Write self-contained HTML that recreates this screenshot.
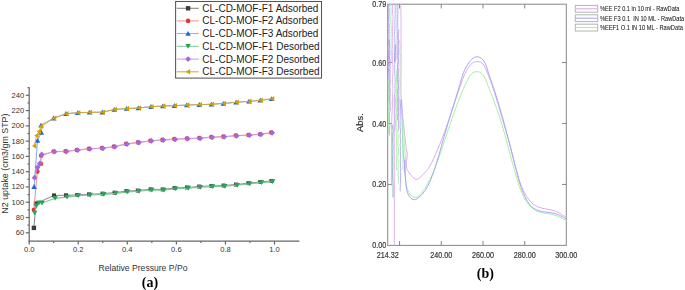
<!DOCTYPE html>
<html><head><meta charset="utf-8"><style>
html,body{margin:0;padding:0;background:#fff;}
body{width:685px;height:290px;overflow:hidden;position:relative;}
svg{display:block;position:absolute;left:0;top:0;}
#r{will-change:transform;}
</style></head><body>
<svg width="685" height="290" viewBox="0 0 685 290">
<g stroke="#666" stroke-width="1.2" fill="none">
<line x1="29.2" y1="87.2" x2="29.2" y2="241.7"/>
<line x1="28.7" y1="241.2" x2="299.4" y2="241.2"/>
<line x1="25.8" y1="232.8" x2="29.2" y2="232.8"/>
<line x1="25.8" y1="217.52" x2="29.2" y2="217.52"/>
<line x1="25.8" y1="202.25" x2="29.2" y2="202.25"/>
<line x1="25.8" y1="186.97" x2="29.2" y2="186.97"/>
<line x1="25.8" y1="171.69" x2="29.2" y2="171.69"/>
<line x1="25.8" y1="156.41" x2="29.2" y2="156.41"/>
<line x1="25.8" y1="141.13" x2="29.2" y2="141.13"/>
<line x1="25.8" y1="125.86" x2="29.2" y2="125.86"/>
<line x1="25.8" y1="110.58" x2="29.2" y2="110.58"/>
<line x1="25.8" y1="95.3" x2="29.2" y2="95.3"/>
<line x1="27.5" y1="225.16" x2="29.2" y2="225.16"/>
<line x1="27.5" y1="209.88" x2="29.2" y2="209.88"/>
<line x1="27.5" y1="194.61" x2="29.2" y2="194.61"/>
<line x1="27.5" y1="179.33" x2="29.2" y2="179.33"/>
<line x1="27.5" y1="164.05" x2="29.2" y2="164.05"/>
<line x1="27.5" y1="148.77" x2="29.2" y2="148.77"/>
<line x1="27.5" y1="133.5" x2="29.2" y2="133.5"/>
<line x1="27.5" y1="118.22" x2="29.2" y2="118.22"/>
<line x1="27.5" y1="102.94" x2="29.2" y2="102.94"/>
<line x1="27.5" y1="87.66" x2="29.2" y2="87.66"/>
<line x1="29.2" y1="241.2" x2="29.2" y2="244.6"/>
<line x1="78.26" y1="241.2" x2="78.26" y2="244.6"/>
<line x1="127.32" y1="241.2" x2="127.32" y2="244.6"/>
<line x1="176.38" y1="241.2" x2="176.38" y2="244.6"/>
<line x1="225.44" y1="241.2" x2="225.44" y2="244.6"/>
<line x1="274.5" y1="241.2" x2="274.5" y2="244.6"/>
<line x1="53.73" y1="241.2" x2="53.73" y2="243"/>
<line x1="102.79" y1="241.2" x2="102.79" y2="243"/>
<line x1="151.85" y1="241.2" x2="151.85" y2="243"/>
<line x1="200.91" y1="241.2" x2="200.91" y2="243"/>
<line x1="249.97" y1="241.2" x2="249.97" y2="243"/>
</g>
<g font-family="&quot;Liberation Sans&quot;, sans-serif" font-size="7.6" fill="#333" text-anchor="end">
<text x="24.2" y="235.3">60</text>
<text x="24.2" y="220.02">80</text>
<text x="24.2" y="204.75">100</text>
<text x="24.2" y="189.47">120</text>
<text x="24.2" y="174.19">140</text>
<text x="24.2" y="158.91">160</text>
<text x="24.2" y="143.63">180</text>
<text x="24.2" y="128.36">200</text>
<text x="24.2" y="113.08">220</text>
<text x="24.2" y="97.8">240</text>
</g>
<g font-family="&quot;Liberation Sans&quot;, sans-serif" font-size="7.6" fill="#333" text-anchor="middle">
<text x="29.2" y="251.9">0.0</text>
<text x="78.26" y="251.9">0.2</text>
<text x="127.32" y="251.9">0.4</text>
<text x="176.38" y="251.9">0.6</text>
<text x="225.44" y="251.9">0.8</text>
<text x="274.5" y="251.9">1.0</text>
</g>
<text transform="translate(8.4 163.6) rotate(-90)" font-family="&quot;Liberation Sans&quot;, sans-serif" font-size="8.9" fill="#333" text-anchor="middle">N2 uptake (cm3/gm STP)</text>
<text x="143" y="270.8" font-family="&quot;Liberation Sans&quot;, sans-serif" font-size="8.6" fill="#333" text-anchor="middle">Relative Pressure P/Po</text>
<polyline points="33.9,227.9 36,203.6 54,195.4 66,195.3 77.2,194.95 89,194.35 102.6,193.65 114.6,192.65 126.4,191.15 137.8,190.55 150.6,189.35 162.7,189.45 174.5,188.05 187.1,187.45 199.2,186.55 211.4,185.95 223.6,185.55 236,184.55 248.4,183.15 260.3,181.95 271.5,180.95" fill="none" stroke="#7a7a7a" stroke-width="0.9"/>
<g><rect x="31.7" y="225.7" width="4.4" height="4.4" fill="#3d3d3d"/><rect x="33.8" y="201.4" width="4.4" height="4.4" fill="#3d3d3d"/><rect x="52" y="193.4" width="4" height="4" fill="#3d3d3d"/><rect x="64" y="193.3" width="4" height="4" fill="#3d3d3d"/><rect x="75.2" y="192.95" width="4" height="4" fill="#3d3d3d"/><rect x="87" y="192.35" width="4" height="4" fill="#3d3d3d"/><rect x="100.6" y="191.65" width="4" height="4" fill="#3d3d3d"/><rect x="112.6" y="190.65" width="4" height="4" fill="#3d3d3d"/><rect x="124.4" y="189.15" width="4" height="4" fill="#3d3d3d"/><rect x="135.8" y="188.55" width="4" height="4" fill="#3d3d3d"/><rect x="148.6" y="187.35" width="4" height="4" fill="#3d3d3d"/><rect x="160.7" y="187.45" width="4" height="4" fill="#3d3d3d"/><rect x="172.5" y="186.05" width="4" height="4" fill="#3d3d3d"/><rect x="185.1" y="185.45" width="4" height="4" fill="#3d3d3d"/><rect x="197.2" y="184.55" width="4" height="4" fill="#3d3d3d"/><rect x="209.4" y="183.95" width="4" height="4" fill="#3d3d3d"/><rect x="221.6" y="183.55" width="4" height="4" fill="#3d3d3d"/><rect x="234" y="182.55" width="4" height="4" fill="#3d3d3d"/><rect x="246.4" y="181.15" width="4" height="4" fill="#3d3d3d"/><rect x="258.3" y="179.95" width="4" height="4" fill="#3d3d3d"/><rect x="269.5" y="178.95" width="4" height="4" fill="#3d3d3d"/></g>
<polyline points="33.9,209.7 37.3,171.6 40.9,163.8 41.2,155.8 53.6,151.5 65.5,151.3 76.7,150 88.9,148.7 102,148.1 113.9,146.6 126.1,143.9 138,142.4 150.4,140.7 162.4,139.9 174.2,139.1 186.8,138.5 199.3,138.1 211.3,137.1 223.3,136.6 235.7,135.6 248.5,135 260,134.2 271.2,132.6" fill="none" stroke="#f07f7f" stroke-width="0.9"/>
<g><circle cx="33.9" cy="209.7" r="2.3" fill="#ea3535"/><circle cx="37.3" cy="171.6" r="2.3" fill="#ea3535"/><circle cx="40.9" cy="163.8" r="2.3" fill="#ea3535"/><circle cx="41.2" cy="155.8" r="2.3" fill="#ea3535"/><circle cx="53.6" cy="151.5" r="2.3" fill="#ea3535"/><circle cx="65.5" cy="151.3" r="2.3" fill="#ea3535"/><circle cx="76.7" cy="150" r="2.3" fill="#ea3535"/><circle cx="88.9" cy="148.7" r="2.3" fill="#ea3535"/><circle cx="102" cy="148.1" r="2.3" fill="#ea3535"/><circle cx="113.9" cy="146.6" r="2.3" fill="#ea3535"/><circle cx="126.1" cy="143.9" r="2.3" fill="#ea3535"/><circle cx="138" cy="142.4" r="2.3" fill="#ea3535"/><circle cx="150.4" cy="140.7" r="2.3" fill="#ea3535"/><circle cx="162.4" cy="139.9" r="2.3" fill="#ea3535"/><circle cx="174.2" cy="139.1" r="2.3" fill="#ea3535"/><circle cx="186.8" cy="138.5" r="2.3" fill="#ea3535"/><circle cx="199.3" cy="138.1" r="2.3" fill="#ea3535"/><circle cx="211.3" cy="137.1" r="2.3" fill="#ea3535"/><circle cx="223.3" cy="136.6" r="2.3" fill="#ea3535"/><circle cx="235.7" cy="135.6" r="2.3" fill="#ea3535"/><circle cx="248.5" cy="135" r="2.3" fill="#ea3535"/><circle cx="260" cy="134.2" r="2.3" fill="#ea3535"/><circle cx="271.2" cy="132.6" r="2.3" fill="#ea3535"/></g>
<polyline points="34.1,186.6 37.5,140.5 41.4,132.5 41,125.3 53.6,118.1 65.9,113.6 77.7,112.7 89.5,112.3 102.4,112.1 114.3,109.4 126.5,108.5 138.4,107.9 151,106.6 162.8,106 174.4,105.6 186.8,105 199.3,104.6 211.5,104.2 223.3,103.4 236.1,102.2 248.9,101.3 260.2,100.3 271.6,98.7" fill="none" stroke="#6f9fe8" stroke-width="0.9"/>
<g><polygon points="34.1,184.08 36.86,188.88 31.34,188.88" fill="#1f66da"/><polygon points="37.5,137.98 40.26,142.78 34.74,142.78" fill="#1f66da"/><polygon points="41.4,129.98 44.16,134.78 38.64,134.78" fill="#1f66da"/><polygon points="41,122.78 43.76,127.58 38.24,127.58" fill="#1f66da"/><polygon points="53.6,115.58 56.36,120.38 50.84,120.38" fill="#1f66da"/><polygon points="65.9,111.08 68.66,115.88 63.14,115.88" fill="#1f66da"/><polygon points="77.7,110.18 80.46,114.98 74.94,114.98" fill="#1f66da"/><polygon points="89.5,109.78 92.26,114.58 86.74,114.58" fill="#1f66da"/><polygon points="102.4,109.58 105.16,114.38 99.64,114.38" fill="#1f66da"/><polygon points="114.3,106.88 117.06,111.68 111.54,111.68" fill="#1f66da"/><polygon points="126.5,105.98 129.26,110.78 123.74,110.78" fill="#1f66da"/><polygon points="138.4,105.38 141.16,110.18 135.64,110.18" fill="#1f66da"/><polygon points="151,104.08 153.76,108.88 148.24,108.88" fill="#1f66da"/><polygon points="162.8,103.48 165.56,108.28 160.04,108.28" fill="#1f66da"/><polygon points="174.4,103.08 177.16,107.88 171.64,107.88" fill="#1f66da"/><polygon points="186.8,102.48 189.56,107.28 184.04,107.28" fill="#1f66da"/><polygon points="199.3,102.08 202.06,106.88 196.54,106.88" fill="#1f66da"/><polygon points="211.5,101.68 214.26,106.48 208.74,106.48" fill="#1f66da"/><polygon points="223.3,100.88 226.06,105.68 220.54,105.68" fill="#1f66da"/><polygon points="236.1,99.68 238.86,104.48 233.34,104.48" fill="#1f66da"/><polygon points="248.9,98.78 251.66,103.58 246.14,103.58" fill="#1f66da"/><polygon points="260.2,97.78 262.96,102.58 257.44,102.58" fill="#1f66da"/><polygon points="271.6,96.18 274.36,100.98 268.84,100.98" fill="#1f66da"/></g>
<polyline points="272.7,181.6 261.5,182.6 249.6,183.8 237.2,185.2 224.8,186.2 212.6,186.6 200.4,187.2 188.3,188.1 175.7,188.7 163.9,190.1 151.8,190 139,191.2 127.6,191.8 115.8,193.3 103.8,194.3 90.2,195 78.4,195.6 67,197.1 55.1,198.3 42,203 39,202.8 36.5,205.8 34.7,213.1" fill="none" stroke="#7cc996" stroke-width="1.2"/>
<g><polygon points="272.7,184.12 275.46,179.32 269.94,179.32" fill="#2aa35c"/><polygon points="261.5,185.12 264.26,180.32 258.74,180.32" fill="#2aa35c"/><polygon points="249.6,186.32 252.36,181.52 246.84,181.52" fill="#2aa35c"/><polygon points="237.2,187.72 239.96,182.92 234.44,182.92" fill="#2aa35c"/><polygon points="224.8,188.72 227.56,183.92 222.04,183.92" fill="#2aa35c"/><polygon points="212.6,189.12 215.36,184.32 209.84,184.32" fill="#2aa35c"/><polygon points="200.4,189.72 203.16,184.92 197.64,184.92" fill="#2aa35c"/><polygon points="188.3,190.62 191.06,185.82 185.54,185.82" fill="#2aa35c"/><polygon points="175.7,191.22 178.46,186.42 172.94,186.42" fill="#2aa35c"/><polygon points="163.9,192.62 166.66,187.82 161.14,187.82" fill="#2aa35c"/><polygon points="151.8,192.52 154.56,187.72 149.04,187.72" fill="#2aa35c"/><polygon points="139,193.72 141.76,188.92 136.24,188.92" fill="#2aa35c"/><polygon points="127.6,194.32 130.36,189.52 124.84,189.52" fill="#2aa35c"/><polygon points="115.8,195.82 118.56,191.02 113.04,191.02" fill="#2aa35c"/><polygon points="103.8,196.82 106.56,192.02 101.04,192.02" fill="#2aa35c"/><polygon points="90.2,197.52 92.96,192.72 87.44,192.72" fill="#2aa35c"/><polygon points="78.4,198.12 81.16,193.32 75.64,193.32" fill="#2aa35c"/><polygon points="67,199.62 69.76,194.82 64.24,194.82" fill="#2aa35c"/><polygon points="55.1,200.82 57.86,196.02 52.34,196.02" fill="#2aa35c"/><polygon points="42,205.52 44.76,200.72 39.24,200.72" fill="#2aa35c"/><polygon points="39,205.32 41.76,200.52 36.24,200.52" fill="#2aa35c"/><polygon points="36.5,208.32 39.26,203.52 33.74,203.52" fill="#2aa35c"/><polygon points="34.7,215.62 37.46,210.82 31.94,210.82" fill="#2aa35c"/></g>
<polyline points="272.2,132.8 261,134.4 249.5,135.2 236.7,135.8 224.3,136.8 212.3,137.3 200.3,138.3 187.8,138.7 175.2,139.3 163.4,140.1 151.4,140.9 139,142.6 127.1,144.1 114.9,146.8 103,148.3 89.9,148.9 77.7,150.2 66.5,151.5 54.6,151.7 41.7,154.5 39.8,163.5 37.5,167.3 34.6,177.7" fill="none" stroke="#c6a0ee" stroke-width="0.9"/>
<g><polygon points="272.2,129.92 275.08,132.8 272.2,135.68 269.32,132.8" fill="#a567de"/><polygon points="261,131.52 263.88,134.4 261,137.28 258.12,134.4" fill="#a567de"/><polygon points="249.5,132.32 252.38,135.2 249.5,138.08 246.62,135.2" fill="#a567de"/><polygon points="236.7,132.92 239.58,135.8 236.7,138.68 233.82,135.8" fill="#a567de"/><polygon points="224.3,133.92 227.18,136.8 224.3,139.68 221.42,136.8" fill="#a567de"/><polygon points="212.3,134.42 215.18,137.3 212.3,140.18 209.42,137.3" fill="#a567de"/><polygon points="200.3,135.42 203.18,138.3 200.3,141.18 197.42,138.3" fill="#a567de"/><polygon points="187.8,135.82 190.68,138.7 187.8,141.58 184.92,138.7" fill="#a567de"/><polygon points="175.2,136.42 178.08,139.3 175.2,142.18 172.32,139.3" fill="#a567de"/><polygon points="163.4,137.22 166.28,140.1 163.4,142.98 160.52,140.1" fill="#a567de"/><polygon points="151.4,138.02 154.28,140.9 151.4,143.78 148.52,140.9" fill="#a567de"/><polygon points="139,139.72 141.88,142.6 139,145.48 136.12,142.6" fill="#a567de"/><polygon points="127.1,141.22 129.98,144.1 127.1,146.98 124.22,144.1" fill="#a567de"/><polygon points="114.9,143.92 117.78,146.8 114.9,149.68 112.02,146.8" fill="#a567de"/><polygon points="103,145.42 105.88,148.3 103,151.18 100.12,148.3" fill="#a567de"/><polygon points="89.9,146.02 92.78,148.9 89.9,151.78 87.02,148.9" fill="#a567de"/><polygon points="77.7,147.32 80.58,150.2 77.7,153.08 74.82,150.2" fill="#a567de"/><polygon points="66.5,148.62 69.38,151.5 66.5,154.38 63.62,151.5" fill="#a567de"/><polygon points="54.6,148.82 57.48,151.7 54.6,154.58 51.72,151.7" fill="#a567de"/><polygon points="41.7,151.62 44.58,154.5 41.7,157.38 38.82,154.5" fill="#a567de"/><polygon points="39.8,160.62 42.68,163.5 39.8,166.38 36.92,163.5" fill="#a567de"/><polygon points="37.5,164.42 40.38,167.3 37.5,170.18 34.62,167.3" fill="#a567de"/><polygon points="34.6,174.82 37.48,177.7 34.6,180.58 31.72,177.7" fill="#a567de"/></g>
<polyline points="272.2,98.8 260.8,100.4 249.5,101.4 236.7,102.3 223.9,103.5 212.1,104.3 199.9,104.7 187.4,105.1 175,105.7 163.4,106.1 151.6,106.7 139,108 127.1,108.6 114.9,109.5 103,112.2 90.1,112.4 78.3,112.8 66.5,113.7 54.2,118.2 41.2,126.2 39,131.5 36.6,135.6 34.2,145.9" fill="none" stroke="#d6a935" stroke-width="0.9"/>
<g><polygon points="269.92,98.8 274.24,95.99 274.24,101.61" fill="#d4a000"/><polygon points="258.52,100.4 262.84,97.59 262.84,103.21" fill="#d4a000"/><polygon points="247.22,101.4 251.54,98.59 251.54,104.21" fill="#d4a000"/><polygon points="234.42,102.3 238.74,99.49 238.74,105.11" fill="#d4a000"/><polygon points="221.62,103.5 225.94,100.69 225.94,106.31" fill="#d4a000"/><polygon points="209.82,104.3 214.14,101.49 214.14,107.11" fill="#d4a000"/><polygon points="197.62,104.7 201.94,101.89 201.94,107.51" fill="#d4a000"/><polygon points="185.12,105.1 189.44,102.29 189.44,107.91" fill="#d4a000"/><polygon points="172.72,105.7 177.04,102.89 177.04,108.51" fill="#d4a000"/><polygon points="161.12,106.1 165.44,103.29 165.44,108.91" fill="#d4a000"/><polygon points="149.32,106.7 153.64,103.89 153.64,109.51" fill="#d4a000"/><polygon points="136.72,108 141.04,105.19 141.04,110.81" fill="#d4a000"/><polygon points="124.82,108.6 129.14,105.79 129.14,111.41" fill="#d4a000"/><polygon points="112.62,109.5 116.94,106.69 116.94,112.31" fill="#d4a000"/><polygon points="100.72,112.2 105.04,109.39 105.04,115.01" fill="#d4a000"/><polygon points="87.82,112.4 92.14,109.59 92.14,115.21" fill="#d4a000"/><polygon points="76.02,112.8 80.34,109.99 80.34,115.61" fill="#d4a000"/><polygon points="64.22,113.7 68.54,110.89 68.54,116.51" fill="#d4a000"/><polygon points="51.92,118.2 56.24,115.39 56.24,121.01" fill="#d4a000"/><polygon points="38.92,126.2 43.24,123.39 43.24,129.01" fill="#d4a000"/><polygon points="36.72,131.5 41.04,128.69 41.04,134.31" fill="#d4a000"/><polygon points="34.32,135.6 38.64,132.79 38.64,138.41" fill="#d4a000"/><polygon points="31.92,145.9 36.24,143.09 36.24,148.71" fill="#d4a000"/></g>
<rect x="175.6" y="1.5" width="145.9" height="76.6" fill="none" stroke="#555" stroke-width="1.05"/>
<line x1="176.7" y1="8.3" x2="198.8" y2="8.3" stroke="#8a8a8a" stroke-width="1.1"/>
<rect x="185.9" y="6.1" width="4.4" height="4.4" fill="#3d3d3d"/>
<text x="202.3" y="11.8" font-family="&quot;Liberation Sans&quot;, sans-serif" font-size="10" fill="#222">CL-CD-MOF-F1 Adsorbed</text>
<line x1="176.7" y1="20.9" x2="198.8" y2="20.9" stroke="#f59a9a" stroke-width="1.1"/>
<circle cx="188.1" cy="20.9" r="2.3" fill="#ea3535"/>
<text x="202.3" y="24.4" font-family="&quot;Liberation Sans&quot;, sans-serif" font-size="10" fill="#222">CL-CD-MOF-F2 Adsorbed</text>
<line x1="176.7" y1="33.5" x2="198.8" y2="33.5" stroke="#8fb4ee" stroke-width="1.1"/>
<polygon points="188.1,30.98 190.86,35.78 185.34,35.78" fill="#1f66da"/>
<text x="202.3" y="37" font-family="&quot;Liberation Sans&quot;, sans-serif" font-size="10" fill="#222">CL-CD-MOF-F3 Adsorbed</text>
<line x1="176.7" y1="46.3" x2="198.8" y2="46.3" stroke="#86cf9f" stroke-width="1.1"/>
<polygon points="188.1,48.82 190.86,44.02 185.34,44.02" fill="#2aa35c"/>
<text x="202.3" y="49.8" font-family="&quot;Liberation Sans&quot;, sans-serif" font-size="10" fill="#222">CL-CD-MOF-F1 Desorbed</text>
<line x1="176.7" y1="59.1" x2="198.8" y2="59.1" stroke="#c8a4ee" stroke-width="1.1"/>
<polygon points="188.1,56.22 190.98,59.1 188.1,61.98 185.22,59.1" fill="#a567de"/>
<text x="202.3" y="62.6" font-family="&quot;Liberation Sans&quot;, sans-serif" font-size="10" fill="#222">CL-CD-MOF-F2 Desorbed</text>
<line x1="176.7" y1="71.8" x2="198.8" y2="71.8" stroke="#d9ad3a" stroke-width="1.1"/>
<polygon points="185.82,71.8 190.14,68.99 190.14,74.61" fill="#d4a000"/>
<text x="202.3" y="75.3" font-family="&quot;Liberation Sans&quot;, sans-serif" font-size="10" fill="#222">CL-CD-MOF-F3 Desorbed</text>
</svg>
<svg id="r" width="685" height="290" viewBox="0 0 685 290">
<text x="150" y="286.7" font-family="&quot;Liberation Serif&quot;, serif" font-weight="bold" font-size="14" fill="#000" text-anchor="middle">(a)</text>
<g stroke="#8c8c8c" stroke-width="1.05" fill="none">
<rect x="387.7" y="4.2" width="178.6" height="241.2"/>
<line x1="387.7" y1="184.45" x2="392" y2="184.45"/>
<line x1="566.3" y1="184.45" x2="562" y2="184.45"/>
<line x1="387.7" y1="123.5" x2="392" y2="123.5"/>
<line x1="566.3" y1="123.5" x2="562" y2="123.5"/>
<line x1="387.7" y1="62.55" x2="392" y2="62.55"/>
<line x1="566.3" y1="62.55" x2="562" y2="62.55"/>
<line x1="399.55" y1="245.4" x2="399.55" y2="241.1"/>
<line x1="399.55" y1="4.2" x2="399.55" y2="8.5"/>
<line x1="441.26" y1="245.4" x2="441.26" y2="241.1"/>
<line x1="441.26" y1="4.2" x2="441.26" y2="8.5"/>
<line x1="482.97" y1="245.4" x2="482.97" y2="241.1"/>
<line x1="482.97" y1="4.2" x2="482.97" y2="8.5"/>
<line x1="524.69" y1="245.4" x2="524.69" y2="241.1"/>
<line x1="524.69" y1="4.2" x2="524.69" y2="8.5"/>
</g>
<text transform="translate(386.3 6.65) scale(0.87 1)" font-family="&quot;Liberation Sans&quot;, sans-serif" font-size="8.3" fill="#222" stroke="#555" stroke-width="0.2" text-anchor="end">0.79</text>
<text transform="translate(386.3 65.55) scale(0.87 1)" font-family="&quot;Liberation Sans&quot;, sans-serif" font-size="8.3" fill="#222" stroke="#555" stroke-width="0.2" text-anchor="end">0.60</text>
<text transform="translate(386.3 126.5) scale(0.87 1)" font-family="&quot;Liberation Sans&quot;, sans-serif" font-size="8.3" fill="#222" stroke="#555" stroke-width="0.2" text-anchor="end">0.40</text>
<text transform="translate(386.3 187.45) scale(0.87 1)" font-family="&quot;Liberation Sans&quot;, sans-serif" font-size="8.3" fill="#222" stroke="#555" stroke-width="0.2" text-anchor="end">0.20</text>
<text transform="translate(386.3 248.4) scale(0.87 1)" font-family="&quot;Liberation Sans&quot;, sans-serif" font-size="8.3" fill="#222" stroke="#555" stroke-width="0.2" text-anchor="end">0.00</text>
<text transform="translate(387.7 257.8) scale(0.87 1)" font-family="&quot;Liberation Sans&quot;, sans-serif" font-size="8.3" fill="#222" stroke="#555" stroke-width="0.2" text-anchor="middle">214.32</text>
<text transform="translate(441.26 257.8) scale(0.87 1)" font-family="&quot;Liberation Sans&quot;, sans-serif" font-size="8.3" fill="#222" stroke="#555" stroke-width="0.2" text-anchor="middle">240.00</text>
<text transform="translate(482.97 257.8) scale(0.87 1)" font-family="&quot;Liberation Sans&quot;, sans-serif" font-size="8.3" fill="#222" stroke="#555" stroke-width="0.2" text-anchor="middle">260.00</text>
<text transform="translate(524.69 257.8) scale(0.87 1)" font-family="&quot;Liberation Sans&quot;, sans-serif" font-size="8.3" fill="#222" stroke="#555" stroke-width="0.2" text-anchor="middle">280.00</text>
<text transform="translate(566.3 257.8) scale(0.87 1)" font-family="&quot;Liberation Sans&quot;, sans-serif" font-size="8.3" fill="#222" stroke="#555" stroke-width="0.2" text-anchor="middle">300.00</text>
<text transform="translate(363.3 122.5) rotate(-90) scale(1 0.9)" font-family="&quot;Liberation Sans&quot;, sans-serif" font-size="9.4" fill="#222" stroke="#444" stroke-width="0.2" text-anchor="middle">Abs.</text>
<text x="485.3" y="278.2" font-family="&quot;Liberation Serif&quot;, serif" font-weight="bold" font-size="14" fill="#000" text-anchor="middle">(b)</text>
<g fill="none" stroke-width="1" stroke-linejoin="round" stroke-linecap="round">
<path d="M404.80 150.00 L404.97 151.46 L405.11 152.93 L405.22 154.40 L405.29 155.87 L405.34 157.34 L405.37 158.82 L405.37 160.30 L405.37 161.78 L405.35 163.26 L405.32 164.74 L405.29 166.22 L405.27 167.70 L405.24 169.18 L405.23 170.66 L405.23 172.14 L405.24 173.61 L405.28 175.09 L405.34 176.56 L405.42 178.02 L405.54 179.49 L405.70 180.95 L405.89 182.40 L406.13 183.85 L406.41 185.29 L406.75 186.73 L407.14 188.17 L407.59 189.59 L408.11 191.01 L408.72 192.38 L409.45 193.68 L410.34 194.85 L411.43 195.87 L412.71 196.68 L414.10 197.20 L415.48 197.34 L416.79 197.06 L418.01 196.43 L419.16 195.54 L420.24 194.46 L421.25 193.29 L422.21 192.08 L423.13 190.87 L423.99 189.64 L424.82 188.40 L425.60 187.15 L426.36 185.89 L427.09 184.62 L427.80 183.35 L428.50 182.06 L429.17 180.76 L429.83 179.46 L430.48 178.14 L431.11 176.82 L431.73 175.50 L432.34 174.16 L432.93 172.82 L433.52 171.47 L434.09 170.11 L434.65 168.75 L435.20 167.39 L435.74 166.02 L436.27 164.64 L436.80 163.26 L437.32 161.88 L437.83 160.49 L438.33 159.10 L438.83 157.71 L439.32 156.32 L439.81 154.92 L440.29 153.52 L440.77 152.12 L441.24 150.72 L441.72 149.32 L442.19 147.92 L442.66 146.51 L443.13 145.11 L443.60 143.71 L444.06 142.31 L444.53 140.91 L444.99 139.50 L445.46 138.10 L445.92 136.70 L446.39 135.30 L446.85 133.90 L447.31 132.50 L447.78 131.10 L448.24 129.70 L448.71 128.30 L449.18 126.90 L449.65 125.51 L450.12 124.11 L450.59 122.71 L451.07 121.32 L451.55 119.93 L452.02 118.53 L452.51 117.14 L452.99 115.75 L453.48 114.36 L453.97 112.97 L454.47 111.59 L454.97 110.20 L455.47 108.82 L455.98 107.44 L456.49 106.06 L457.01 104.68 L457.53 103.31 L458.06 101.93 L458.59 100.56 L459.13 99.19 L459.67 97.82 L460.22 96.45 L460.78 95.09 L461.34 93.73 L461.91 92.37 L462.48 91.01 L463.07 89.66 L463.66 88.31 L464.26 86.96 L464.88 85.62 L465.50 84.28 L466.14 82.94 L466.80 81.61 L467.47 80.28 L468.16 78.96 L468.87 77.65 L469.61 76.36 L470.42 75.14 L471.33 74.03 L472.37 73.09 L473.59 72.36 L474.99 71.88 L476.53 71.67 L478.09 71.74 L479.58 72.10 L480.91 72.76 L482.03 73.68 L482.99 74.79 L483.83 75.98 L484.57 77.25 L485.23 78.56 L485.83 79.92 L486.38 81.30 L486.91 82.70 L487.43 84.10 L487.95 85.49 L488.47 86.88 L489.01 88.26 L489.54 89.64 L490.08 91.00 L490.62 92.37 L491.16 93.74 L491.70 95.10 L492.24 96.46 L492.77 97.83 L493.30 99.20 L493.82 100.57 L494.33 101.95 L494.84 103.33 L495.35 104.71 L495.84 106.10 L496.33 107.49 L496.82 108.88 L497.29 110.28 L497.77 111.67 L498.23 113.08 L498.70 114.48 L499.15 115.88 L499.60 117.29 L500.05 118.70 L500.49 120.11 L500.93 121.53 L501.36 122.94 L501.79 124.35 L502.21 125.77 L502.63 127.19 L503.04 128.61 L503.45 130.02 L503.86 131.44 L504.26 132.86 L504.66 134.28 L505.06 135.70 L505.45 137.12 L505.84 138.54 L506.23 139.96 L506.62 141.38 L507.00 142.80 L507.39 144.22 L507.77 145.65 L508.15 147.07 L508.53 148.49 L508.91 149.91 L509.29 151.33 L509.67 152.76 L510.06 154.18 L510.44 155.60 L510.82 157.02 L511.20 158.44 L511.59 159.86 L511.97 161.29 L512.36 162.71 L512.75 164.13 L513.15 165.55 L513.54 166.97 L513.94 168.39 L514.34 169.81 L514.75 171.23 L515.16 172.65 L515.57 174.07 L515.99 175.48 L516.41 176.90 L516.84 178.32 L517.27 179.73 L517.71 181.15 L518.15 182.57 L518.60 183.98 L519.06 185.39 L519.54 186.79 L520.03 188.19 L520.54 189.58 L521.07 190.96 L521.63 192.32 L522.21 193.68 L522.82 195.02 L523.46 196.34 L524.14 197.65 L524.85 198.94 L525.61 200.21 L526.40 201.46 L527.24 202.67 L528.12 203.85 L529.05 204.99 L530.02 206.08 L531.05 207.11 L532.12 208.07 L533.25 208.96 L534.43 209.77 L535.67 210.49 L536.96 211.11 L538.30 211.64 L539.70 212.10 L541.12 212.48 L542.58 212.81 L544.07 213.10 L545.57 213.36 L547.07 213.61 L548.58 213.86 L550.08 214.12 L551.57 214.41 L553.03 214.73 L554.46 215.11 L555.85 215.55 L557.21 216.06 L558.54 216.63 L559.85 217.25 L561.14 217.91 L562.43 218.60 L563.72 219.31 L565.02 220.03 L566.35 220.75" stroke="#a2eda2"/>
<path d="M406.50 150.00 L406.92 151.21 L407.16 152.51 L407.25 153.88 L407.22 155.31 L407.10 156.78 L406.93 158.27 L406.73 159.78 L406.53 161.29 L406.38 162.78 L406.29 164.24 L406.30 165.66 L406.45 167.01 L406.75 168.30 L407.23 169.50 L407.85 170.66 L408.56 171.80 L409.32 172.97 L410.14 174.13 L411.02 175.28 L411.97 176.38 L413.00 177.43 L414.10 178.37 L415.26 179.07 L416.42 179.40 L417.56 179.24 L418.68 178.66 L419.78 177.78 L420.86 176.73 L421.91 175.66 L422.95 174.62 L423.97 173.59 L424.95 172.57 L425.90 171.55 L426.80 170.50 L427.65 169.42 L428.45 168.30 L429.21 167.15 L429.92 165.97 L430.60 164.77 L431.25 163.54 L431.88 162.30 L432.48 161.04 L433.07 159.77 L433.65 158.49 L434.23 157.21 L434.80 155.92 L435.36 154.64 L435.93 153.35 L436.49 152.07 L437.04 150.78 L437.59 149.49 L438.14 148.19 L438.68 146.90 L439.22 145.60 L439.75 144.31 L440.28 143.01 L440.80 141.71 L441.31 140.40 L441.83 139.10 L442.33 137.79 L442.83 136.49 L443.33 135.18 L443.82 133.87 L444.31 132.56 L444.79 131.24 L445.27 129.93 L445.75 128.61 L446.22 127.30 L446.69 125.98 L447.16 124.66 L447.62 123.34 L448.08 122.02 L448.54 120.70 L449.00 119.38 L449.45 118.06 L449.90 116.73 L450.35 115.41 L450.80 114.08 L451.25 112.76 L451.69 111.43 L452.14 110.10 L452.58 108.78 L453.02 107.45 L453.46 106.12 L453.91 104.79 L454.35 103.46 L454.79 102.14 L455.23 100.81 L455.68 99.48 L456.12 98.15 L456.56 96.82 L457.01 95.49 L457.46 94.16 L457.91 92.83 L458.36 91.51 L458.81 90.18 L459.26 88.85 L459.72 87.52 L460.17 86.19 L460.63 84.87 L461.10 83.54 L461.57 82.22 L462.05 80.90 L462.54 79.59 L463.04 78.28 L463.56 76.99 L464.10 75.70 L464.67 74.43 L465.25 73.17 L465.87 71.93 L466.51 70.70 L467.19 69.49 L467.91 68.30 L468.68 67.14 L469.53 66.00 L470.45 64.88 L471.47 63.85 L472.59 62.95 L473.84 62.25 L475.21 61.80 L476.64 61.58 L478.07 61.60 L479.45 61.85 L480.73 62.32 L481.84 63.01 L482.80 63.89 L483.62 64.92 L484.34 66.08 L484.98 67.33 L485.57 68.63 L486.14 69.95 L486.69 71.27 L487.23 72.60 L487.77 73.92 L488.29 75.24 L488.81 76.56 L489.32 77.89 L489.82 79.21 L490.31 80.54 L490.79 81.86 L491.27 83.19 L491.74 84.51 L492.20 85.84 L492.66 87.17 L493.11 88.49 L493.56 89.82 L493.99 91.15 L494.43 92.48 L494.86 93.81 L495.28 95.14 L495.70 96.47 L496.12 97.80 L496.53 99.13 L496.94 100.47 L497.34 101.80 L497.75 103.13 L498.14 104.47 L498.54 105.80 L498.94 107.14 L499.33 108.48 L499.72 109.81 L500.12 111.15 L500.51 112.49 L500.90 113.83 L501.29 115.17 L501.68 116.51 L502.07 117.85 L502.46 119.20 L502.85 120.54 L503.24 121.88 L503.64 123.23 L504.03 124.57 L504.43 125.92 L504.82 127.27 L505.22 128.62 L505.61 129.96 L506.00 131.31 L506.40 132.66 L506.79 134.01 L507.18 135.36 L507.57 136.71 L507.95 138.07 L508.33 139.42 L508.71 140.77 L509.09 142.12 L509.47 143.47 L509.84 144.83 L510.21 146.18 L510.57 147.53 L510.93 148.89 L511.28 150.24 L511.63 151.59 L511.98 152.95 L512.33 154.30 L512.67 155.65 L513.01 157.01 L513.34 158.36 L513.68 159.71 L514.02 161.07 L514.36 162.42 L514.70 163.77 L515.05 165.12 L515.39 166.48 L515.74 167.83 L516.10 169.18 L516.46 170.53 L516.83 171.88 L517.20 173.23 L517.58 174.58 L517.97 175.93 L518.37 177.27 L518.78 178.62 L519.20 179.96 L519.64 181.30 L520.10 182.63 L520.57 183.95 L521.06 185.27 L521.58 186.58 L522.11 187.87 L522.68 189.16 L523.27 190.43 L523.88 191.69 L524.53 192.94 L525.21 194.17 L525.93 195.38 L526.68 196.58 L527.46 197.75 L528.29 198.88 L529.15 199.98 L530.06 201.04 L531.00 202.04 L532.00 202.99 L533.03 203.88 L534.12 204.71 L535.25 205.45 L536.44 206.12 L537.67 206.71 L538.95 207.21 L540.28 207.65 L541.63 208.03 L543.02 208.36 L544.42 208.66 L545.84 208.94 L547.26 209.21 L548.68 209.49 L550.10 209.77 L551.50 210.08 L552.88 210.43 L554.23 210.83 L555.54 211.28 L556.82 211.81 L558.06 212.39 L559.28 213.03 L560.47 213.71 L561.65 214.43 L562.82 215.18 L563.99 215.96 L565.16 216.76 L566.34 217.57" stroke="#dba6e5"/>
<path d="M404.80 160.00 L404.72 161.64 L404.68 163.25 L404.67 164.84 L404.69 166.40 L404.73 167.96 L404.80 169.50 L404.88 171.03 L404.99 172.55 L405.10 174.07 L405.23 175.58 L405.36 177.10 L405.50 178.62 L405.64 180.16 L405.78 181.70 L405.92 183.26 L406.05 184.83 L406.20 186.40 L406.40 187.98 L406.66 189.54 L407.01 191.09 L407.47 192.60 L408.06 194.08 L408.81 195.52 L409.73 196.88 L410.79 198.09 L411.97 199.02 L413.23 199.57 L414.55 199.65 L415.89 199.29 L417.23 198.59 L418.54 197.66 L419.79 196.59 L420.97 195.47 L422.08 194.31 L423.12 193.11 L424.09 191.87 L425.01 190.61 L425.87 189.31 L426.68 187.98 L427.44 186.63 L428.16 185.26 L428.84 183.86 L429.49 182.45 L430.11 181.03 L430.71 179.59 L431.29 178.15 L431.85 176.70 L432.40 175.25 L432.94 173.79 L433.46 172.32 L433.97 170.86 L434.48 169.39 L434.97 167.91 L435.45 166.44 L435.93 164.96 L436.40 163.48 L436.86 161.99 L437.31 160.50 L437.76 159.01 L438.20 157.52 L438.64 156.03 L439.07 154.53 L439.50 153.04 L439.92 151.54 L440.35 150.04 L440.77 148.54 L441.19 147.04 L441.61 145.54 L442.03 144.04 L442.45 142.54 L442.87 141.03 L443.30 139.53 L443.72 138.03 L444.15 136.53 L444.58 135.03 L445.01 133.53 L445.44 132.04 L445.87 130.54 L446.31 129.04 L446.75 127.54 L447.19 126.05 L447.63 124.55 L448.07 123.06 L448.51 121.56 L448.96 120.07 L449.41 118.58 L449.86 117.09 L450.31 115.60 L450.77 114.11 L451.23 112.63 L451.69 111.14 L452.15 109.66 L452.61 108.17 L453.08 106.69 L453.54 105.21 L454.01 103.72 L454.47 102.24 L454.93 100.76 L455.40 99.27 L455.86 97.79 L456.32 96.30 L456.78 94.81 L457.23 93.32 L457.68 91.83 L458.13 90.33 L458.57 88.84 L459.01 87.34 L459.44 85.83 L459.87 84.33 L460.30 82.82 L460.73 81.31 L461.17 79.80 L461.62 78.30 L462.08 76.81 L462.57 75.33 L463.09 73.86 L463.63 72.41 L464.22 70.97 L464.84 69.56 L465.51 68.17 L466.23 66.80 L467.01 65.46 L467.85 64.15 L468.75 62.87 L469.72 61.62 L470.76 60.42 L471.89 59.26 L473.10 58.23 L474.43 57.42 L475.86 56.92 L477.34 56.77 L478.80 57.00 L480.20 57.60 L481.50 58.49 L482.66 59.57 L483.65 60.78 L484.50 62.08 L485.22 63.46 L485.85 64.89 L486.39 66.37 L486.89 67.88 L487.36 69.40 L487.83 70.91 L488.31 72.41 L488.79 73.91 L489.29 75.39 L489.79 76.87 L490.29 78.34 L490.80 79.81 L491.30 81.27 L491.81 82.74 L492.31 84.20 L492.81 85.67 L493.31 87.14 L493.80 88.61 L494.28 90.08 L494.76 91.56 L495.24 93.03 L495.71 94.51 L496.18 96.00 L496.65 97.48 L497.11 98.97 L497.56 100.46 L498.02 101.95 L498.47 103.44 L498.91 104.93 L499.35 106.43 L499.79 107.92 L500.23 109.42 L500.66 110.92 L501.09 112.42 L501.52 113.92 L501.94 115.42 L502.36 116.92 L502.78 118.42 L503.20 119.92 L503.61 121.43 L504.02 122.93 L504.43 124.44 L504.84 125.94 L505.25 127.45 L505.65 128.95 L506.05 130.46 L506.45 131.97 L506.85 133.47 L507.25 134.98 L507.64 136.49 L508.04 138.00 L508.43 139.51 L508.82 141.01 L509.21 142.52 L509.60 144.03 L509.99 145.54 L510.38 147.05 L510.76 148.56 L511.15 150.07 L511.54 151.58 L511.92 153.08 L512.31 154.59 L512.69 156.10 L513.08 157.61 L513.46 159.12 L513.84 160.62 L514.23 162.13 L514.61 163.64 L515.00 165.14 L515.39 166.65 L515.77 168.15 L516.16 169.66 L516.55 171.16 L516.93 172.67 L517.32 174.17 L517.72 175.67 L518.12 177.17 L518.53 178.67 L518.95 180.16 L519.38 181.65 L519.83 183.14 L520.30 184.63 L520.78 186.11 L521.28 187.59 L521.80 189.07 L522.35 190.54 L522.93 192.00 L523.53 193.46 L524.17 194.92 L524.83 196.36 L525.54 197.79 L526.28 199.19 L527.07 200.56 L527.90 201.89 L528.78 203.16 L529.72 204.37 L530.71 205.52 L531.77 206.59 L532.89 207.57 L534.07 208.45 L535.33 209.24 L536.66 209.91 L538.07 210.46 L539.54 210.92 L541.06 211.29 L542.62 211.60 L544.22 211.86 L545.83 212.09 L547.45 212.30 L549.07 212.52 L550.67 212.75 L552.26 213.01 L553.80 213.32 L555.30 213.70 L556.74 214.16 L558.14 214.70 L559.52 215.30 L560.87 215.96 L562.21 216.68 L563.57 217.44 L564.94 218.25 L566.35 219.09" stroke="#a2a2f5"/>
<polyline points="388.18,4.4 388.06,7.4 388.41,10.4 388,13.4 388.33,16.4 388.21,19.4 387.99,22.4 388.31,25.4 387.98,28.4 388.25,31.4 388,34.4 388.01,37.4 388.25,40.4 388.53,43.4 388.04,46.4 388.11,49.4 388.39,52.4 388.61,55.4 388.35,58.4 388.23,61.4 388.63,64.4 387.98,67.4 388.55,70.4 388.15,73.4 388.05,76.4 388.03,79.4 388.17,82.4 388.52,85.4 388.08,88.4 388.36,91.4 388.4,94.4 388.21,97.4 388.3,100" stroke="#ad94e4" stroke-width="0.9"/>
<polyline points="388.53,80 388.19,83 388.19,86 388.29,89 388.63,92 388.45,95 388.37,98 388.56,101 388.47,104 388.36,107 388.71,110 388.64,113 388.32,116 388.55,119 388.52,122 388.76,125 388.66,128 388.35,131 388.5,132" stroke="#a2eda2" stroke-width="0.8"/>
<polyline points="389.74,4.4 389.13,7.4 389.34,10.4 389.58,13.4 389.16,16.4 389.39,19.4 389.08,22.4 389.52,25.4 389.59,28.4 389.45,31.4 389.66,34.4 389.27,37.4 389.54,40.4 389.47,43.4 389.46,46.4 389.37,49.4 389.64,52.4 389.71,55.4 389.38,58.4 389.4,60" stroke="#c4b8f2" stroke-width="0.8"/>
<polyline points="389.71,40 389.29,43 389.74,46 389.7,49 389.95,52 389.83,55 389.45,58 389.52,61 389.72,64 389.27,67 389.57,70 389.37,73 389.33,76 389.29,79 389.79,82 389.34,85 389.42,88 389.52,91 389.86,94 389.31,97 389.56,100 389.63,103 389.87,106 389.82,109 389.85,112 389.44,115 389.54,118 389.5,121 389.87,124 389.92,127 389.36,130 389.37,133 389.6,135" stroke="#a2a2f5" stroke-width="0.8"/>
<polyline points="390.91,4.4 390.91,7.4 391.09,10.4 391.16,13.4 390.93,16.4 390.75,19.4 391.04,22.4 391.01,25.4 391.15,28.4 391.42,31.4 391.23,34.4 391.11,37.4 391.18,40.4 391.22,43.4 390.79,46.4 391.38,49.4 391.3,52.4 391.36,55.4 391.31,58.4 391.02,61.4 391.1,62" stroke="#a2eda2" stroke-width="0.8"/>
<polyline points="390.53,60 390.32,63 390.69,66 390.29,69 390.3,72 390.4,75 390.36,78 390.49,81 390.29,84 390.25,87 390.36,90 390.32,93 390.5,96 390.27,99 390.86,102 390.68,105 390.35,108 390.6,110" stroke="#c8b0ec" stroke-width="0.7"/>
<polyline points="392.53,4.4 392.59,7.4 392.6,10.4 392.44,13.4 392.94,16.4 393.05,19.4 392.68,22.4 392.69,25.4 392.41,28.4 392.42,31.4 392.59,34.4 392.54,37.4 392.93,40.4 392.46,43.4 392.37,46.4 393.02,49.4 392.72,52.4 392.45,55.4 392.73,58.4 392.37,61.4 392.72,64.4 393.03,67.4 392.95,70.4 392.84,73.4 392.53,76.4 392.61,79.4 392.47,82.4 392.89,85.4 392.72,88.4 392.9,91.4 392.58,94.4 392.51,97.4 392.7,100" stroke="#dba6e5" stroke-width="0.8"/>
<polyline points="395.12,4.4 395.24,7.4 395.15,10.4 395.11,13.4 395.12,16.4 395.07,19.4 394.71,22.4 394.91,25.4 394.8,28.4 394.57,31.4 394.57,34.4 394.75,37.4 394.73,40.4 395.03,43.4 395.22,46.4 394.86,49.4 395.21,52.4 395.24,55.4 395.22,58.4 394.81,61.4 394.7,64.4 394.71,67.4 394.69,70.4 394.69,73.4 394.99,76.4 395.18,79.4 395.14,82.4 394.89,85.4 395.01,88.4 395.11,91.4 394.61,94.4 395.01,97.4 395.19,100.4 395.1,103.4 395.08,106.4 394.88,109.4 394.67,112.4 395.1,115.4 394.78,118.4 395.11,121.4 395.23,124.4 394.83,127.4 394.9,130" stroke="#a9a6f2" stroke-width="0.8"/>
<polyline points="394.93,45 395.31,48 395.16,51 394.77,54 394.74,57 394.76,60 395,62" stroke="#8f7ad8" stroke-width="0.8"/>
<polyline points="396.88,4.4 396.81,7.4 396.35,10.4 396.83,13.4 396.94,16.4 396.71,19.4 396.5,22.4 396.63,25.4 396.34,28.4 396.26,31.4 396.93,34.4 396.7,37.4 396.62,40.4 396.9,43.4 396.55,46.4 396.86,49.4 396.83,52.4 396.4,55.4 396.43,58.4 396.6,60" stroke="#c9c7f6" stroke-width="0.7"/>
<polyline points="396.36,70 396.32,73 396.56,76 396.33,79 396.44,82 396.24,85 396.79,88 396.4,91 396.47,94 396.56,97 396.78,100 396.44,103 396.79,106 396.5,109 396.52,112 396.52,115 396.16,118 396.46,121 396.28,124 396.15,127 396.71,130 396.27,133 396.48,136 396.66,139 396.54,142 396.38,145 396.51,148 396.54,151 396.7,154 396.22,157 396.54,160 396.32,163 396.34,166 396.69,169 396.5,170" stroke="#a2eda2" stroke-width="0.8"/>
<polyline points="397.71,4.4 397.74,7.4 397.88,10.4 397.99,13.4 397.66,16.4 397.78,19.4 397.7,22.4 397.71,25.4 397.83,28.4 397.67,31.4 397.72,34.4 397.68,37.4 398.01,40.4 397.84,43.4 397.96,46.4 398.01,49.4 397.53,52.4 397.74,55.4 398.01,58.4 397.94,61.4 397.45,64.4 397.44,67.4 397.66,70.4 397.4,73.4 397.52,76.4 397.4,79.4 397.82,82.4 397.9,85.4 397.98,88.4 397.46,91.4 397.85,94.4 397.81,97.4 397.45,100.4 397.97,103.4 398.03,106.4 397.5,109.4 398.02,112.4 397.63,115.4 397.69,118.4 397.7,120" stroke="#a2a2f5" stroke-width="0.8"/>
<polyline points="398.74,30 398.63,33 398.16,36 398.35,39 398.41,42 398.29,45 398.19,48 398.27,51 398.56,54 398.06,57 398.44,60 398.36,63 398.06,66 398.28,69 398.49,72 398.41,75 398.1,78 398.74,81 398.6,84 398.73,87 398.12,90 398.24,93 398.08,96 398.6,99 398.24,102 398.14,105 398.35,108 398.69,111 398.62,114 398.23,117 398.15,120 398.69,123 398.45,126 398.54,129 398.4,130" stroke="#ad94e4" stroke-width="0.7"/>
<polyline points="399.71,40 399.69,43 400.13,46 399.95,49 399.7,52 400.31,55 400.09,58 400.21,61 399.71,64 400.25,67 399.7,70 400.25,73 399.97,76 399.89,79 400.04,82 400.3,85 399.84,88 399.74,91 400.02,94 399.82,97 399.73,100 399.76,103 399.69,106 399.79,109 400,110" stroke="#a2eda2" stroke-width="0.7"/>
<polyline points="400.27,100 400.26,103 400.58,106 400.25,109 400.4,112 400.17,115 400.29,118 400.06,121 400.23,124 400.06,127 400.56,130 400.44,133 400.18,136 400.38,139 400.7,142 400.12,145 400.62,148 400.35,151 400.4,154 400.63,157 400.33,160 400.4,163 400.53,166 400.74,169 400.29,172 400.63,175 400.54,178 400.5,181 400.33,184 400.29,187 400.09,190 400.4,191" stroke="#a2a2f5" stroke-width="0.8"/>
<polyline points="397.94,130 397.9,133 398.37,136 398.03,139 397.96,142 397.91,145 398.44,148 398.46,151 398.32,154 398.05,157 398.02,160 398.06,163 398.17,166 397.96,169 398.16,172 398.03,175 398.52,178 398.53,181 398.2,183.4" stroke="#a2eda2" stroke-width="0.8"/>
<polyline points="392.93,125 392.72,128 393.23,131 392.77,134 392.8,137 392.55,140 392.82,143 392.88,146 392.9,149 392.69,152 392.9,155 392.55,158 392.73,161 392.61,164 392.83,167 392.58,170 392.57,173 392.76,176 392.71,179 392.96,182 392.92,185 393.08,188 393.01,191 393.05,194 392.9,197" stroke="#6aa8b0" stroke-width="0.8"/>
<polyline points="392.7,100 391.7,120 391.4,150 391.5,185.5" stroke="#dba6e5" stroke-width="0.8"/>
<polyline points="394.3,95 394.2,140 394.3,200 394.3,245.4" stroke="#dba6e5" stroke-width="0.9"/>
<polyline points="400.9,4.4 401.1,50 401,95 402.5,115 404.7,135 406.5,150" stroke="#dba6e5" stroke-width="0.8"/>
<polyline points="401.6,100 402.4,130 403,150 404.4,165 404.8,172" stroke="#a2a2f5" stroke-width="0.8"/>
<polyline points="402.4,120 402.8,150 403,170" stroke="#a2eda2" stroke-width="0.8"/>
<polyline points="403.4,120 404.2,140 404.8,150" stroke="#a2eda2" stroke-width="0.8"/>
</g>
<rect x="575.3" y="5.4" width="22.4" height="6.8" fill="none" stroke="#b4b4b4" stroke-width="1"/>
<line x1="575.8" y1="8.8" x2="597.2" y2="8.8" stroke="#dba6e5" stroke-width="1"/>
<text x="599.9" y="11.4" font-family="&quot;Liberation Sans&quot;, sans-serif" font-size="6.9" fill="#111" stroke="#555" stroke-width="0.08" textLength="79.6" lengthAdjust="spacingAndGlyphs">%EE F2 0.1 in 10 ml - RawData</text>
<rect x="575.3" y="14.8" width="22.4" height="6.8" fill="none" stroke="#b4b4b4" stroke-width="1"/>
<line x1="575.8" y1="18.2" x2="597.2" y2="18.2" stroke="#a2a2f5" stroke-width="1"/>
<text x="599.9" y="20.8" font-family="&quot;Liberation Sans&quot;, sans-serif" font-size="6.9" fill="#111" stroke="#555" stroke-width="0.08" textLength="84.3" lengthAdjust="spacingAndGlyphs">%EE F3 0.1&#160; IN 10 ML - RawData</text>
<rect x="575.3" y="24.2" width="22.4" height="6.8" fill="none" stroke="#b4b4b4" stroke-width="1"/>
<line x1="575.8" y1="27.6" x2="597.2" y2="27.6" stroke="#a2eda2" stroke-width="1"/>
<text x="599.9" y="30.2" font-family="&quot;Liberation Sans&quot;, sans-serif" font-size="6.9" fill="#111" stroke="#555" stroke-width="0.08" textLength="83" lengthAdjust="spacingAndGlyphs">%EEF1 O.1 IN 10 ML - RawData</text>
</svg>
</body></html>
